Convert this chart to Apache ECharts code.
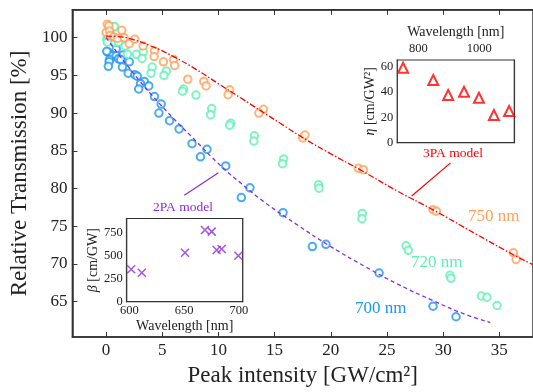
<!DOCTYPE html>
<html><head><meta charset="utf-8">
<script src="https://cdn.jsdelivr.net/npm/echarts@6/dist/echarts.min.js"></script>
<style>html,body{margin:0;padding:0;background:#fff}#c{width:533px;height:392px}</style>
</head><body><div id="c"></div>
<script>
const xTicks = [0,5,10,15,20,25,30,35];
const yTicks = [65,70,75,80,85,90,95,100];
const data700 = [[0.15,98.1],[0.5,97.6],[0.3,97.1],[0.27,96.8],[0.2,96.2],[0.9,98.5],[0.06,98.2],[0.9,97.6],[1.5,97.7],[1.1,97.2],[1.3,97.1],[1.45,96.1],[2.06,96.8],[1.97,95.3],[2.56,95.1],[2.77,94.9],[3.4,94.2],[3.06,93.9],[3.8,93.6],[2.9,93.2],[4.3,92.2],[4.9,91.2],[4.7,90.0],[5.65,89.0],[6.5,87.9],[7.65,85.95],[8.98,85.2],[8.4,84.2],[10.65,83.0],[12.8,80.1],[12.04,78.8],[15.75,76.8],[18.36,72.3],[19.57,72.6],[24.3,68.8],[29.1,64.4],[31.15,63.0]];
const data720 = [[0.65,101.4],[0.74,101.5],[0.06,99.8],[0.2,100.2],[0.4,100.5],[0.1,99.4],[1.3,100.0],[0.8,99.35],[1.1,99.4],[1.7,98.9],[1.9,97.8],[2.7,97.8],[3.3,98.1],[3.2,97.25],[4.1,96.1],[4.0,95.3],[5.36,95.6],[5.15,95.0],[6.9,93.2],[6.8,92.9],[8.0,92.4],[9.4,90.6],[9.3,89.8],[11.1,88.65],[11.0,88.4],[13.2,87.0],[13.15,86.3],[15.8,83.9],[15.7,83.3],[18.9,80.5],[18.95,80.05],[22.8,76.7],[22.77,76.0],[26.7,72.4],[26.9,71.8],[30.6,68.5],[30.7,68.1],[33.4,65.75],[33.9,65.6],[34.8,64.5]];
const data750 = [[0.1,101.8],[0.25,101.6],[0.0,100.7],[0.3,100.9],[0.35,100.3],[0.7,100.1],[1.0,99.9],[1.4,101.0],[1.6,100.0],[2.06,99.2],[2.56,99.8],[3.3,98.9],[4.3,98.25],[4.27,97.5],[5.1,96.8],[6.0,97.1],[6.1,96.3],[7.27,94.5],[8.7,94.2],[8.9,93.6],[11.0,93.1],[10.86,92.45],[14.0,90.5],[13.6,90.0],[17.5,86.7],[17.7,87.1],[22.45,82.7],[22.9,82.5],[29.1,77.2],[29.4,77.0],[36.25,71.5],[36.5,70.6]];
const model2PA = [[0,100],[1,98.0],[2,96.1],[3,94.25],[4,92.5],[6,89.3],[8,86.3],[10,83.3],[12,80.7],[14,78.3],[17,75.2],[20,72.3],[23,69.7],[26,67.3],[29,65.2],[32,63.3],[34.2,62.25]];
const model3PA = [[0,100.2],[1,100.15],[2.3,99.8],[4,98.9],[6,97.5],[8,95.8],[10,93.9],[12,92.0],[15.5,88.65],[17.45,86.8],[20,84.6],[22.6,82.5],[26,79.6],[29.2,77.1],[33,73.9],[36.4,71.1],[38,69.9]];
const betaWl = [601.6,611.3,650.8,669,675.2,679.7,684.3,699.5];
const betaVal = [351,314,530,776,758,560,570,498];
const etaWl = [750,849,898,950,999,1048,1098];
const etaVal = [59.3,49.6,37.7,40.3,35.6,21.9,25.1];
const betaXTicks = [600,650,700];
const betaYTicks = [0,250,500,750];
const etaXTicks = [800,1000];
const etaYTicks = [0,20,40,60];

const F = 'Liberation Serif';
const AX = '#333';
const C700 = '#1e96f0', C720 = '#5ff0b4', C750 = '#ffa05a', CP = '#8a2be2', CR = '#ff0000';
const plain = v => String(v);

function ax(base, w){
  const o = Object.assign({type:'value', splitLine:{show:false}}, base);
  o.axisLine = {show:true, onZero:false, lineStyle:{color:AX, width:w||1.2}};
  return o;
}

const chart = echarts.init(document.getElementById('c'), null, {renderer:'canvas'});
chart.setOption({
  animation:false,
  backgroundColor:'#fff',
  grid:[
    {left:70.3, top:9.8, width:464.6, height:331.6, show:true, borderColor:AX, borderWidth:1.5, backgroundColor:'transparent'},
    {left:126.7, top:218.5, width:116, height:83.2, show:true, borderColor:AX, borderWidth:1.2, backgroundColor:'#fff', z:5},
    {left:397.3, top:60, width:117, height:82.7, show:true, borderColor:AX, borderWidth:1.2, backgroundColor:'#fff', z:5}
  ],
  xAxis:[
    ax({gridIndex:0, min:-3, max:38, position:'bottom',
      axisTick:{inside:true,length:5,customValues:xTicks,lineStyle:{color:AX}},
      axisLabel:{customValues:xTicks,formatter:plain,fontFamily:F,fontSize:17,color:'#222',margin:5},
      name:'Peak intensity [GW/cm²]', nameLocation:'middle', nameGap:24,
      nameTextStyle:{fontFamily:F,fontSize:23,color:'#222'}}, 1.5),
    ax({gridIndex:0, min:-3, max:38, position:'top',
      axisTick:{inside:true,length:5,customValues:xTicks,lineStyle:{color:AX}},
      axisLabel:{show:false}}, 1.5),
    ax({gridIndex:1, min:597.5, max:703.5, position:'bottom',
      axisTick:{inside:true,length:4,customValues:betaXTicks,lineStyle:{color:AX}},
      axisLabel:{customValues:betaXTicks,formatter:plain,fontFamily:F,fontSize:12.5,color:'#222',margin:3},
      name:'Wavelength [nm]', nameLocation:'middle', nameGap:18,
      nameTextStyle:{fontFamily:F,fontSize:14,color:'#222'}}),
    ax({gridIndex:1, min:597.5, max:703.5, position:'top',
      axisTick:{inside:true,length:4,customValues:betaXTicks,lineStyle:{color:AX}},
      axisLabel:{show:false}}),
    ax({gridIndex:2, min:731, max:1115, position:'top',
      axisTick:{inside:true,length:4,customValues:etaXTicks,lineStyle:{color:AX}},
      axisLabel:{customValues:etaXTicks,formatter:plain,fontFamily:F,fontSize:12.5,color:'#222',margin:5},
      name:'Wavelength [nm]', nameLocation:'middle', nameGap:21,
      nameTextStyle:{fontFamily:F,fontSize:14,color:'#222'}}),
    ax({gridIndex:2, min:731, max:1115, position:'bottom',
      axisTick:{inside:true,length:4,customValues:etaXTicks,lineStyle:{color:AX}},
      axisLabel:{show:false}})
  ],
  yAxis:[
    ax({gridIndex:0, min:60.3, max:103.7, position:'left',
      axisTick:{inside:true,length:5,customValues:yTicks,lineStyle:{color:AX}},
      axisLabel:{customValues:yTicks,formatter:plain,fontFamily:F,fontSize:17,color:'#222',margin:5},
      name:'Relative Transmission [%]', nameLocation:'middle', nameGap:32,
      nameTextStyle:{fontFamily:F,fontSize:23,color:'#222'}}, 1.5),
    ax({gridIndex:1, min:0, max:900, position:'left',
      axisTick:{inside:true,length:4,customValues:betaYTicks,lineStyle:{color:AX}},
      axisLabel:{customValues:betaYTicks,formatter:plain,fontFamily:F,fontSize:12.5,color:'#222',margin:4},
      name:'{i|β} [cm/GW]', nameLocation:'middle', nameGap:25,
      nameTextStyle:{fontFamily:F,fontSize:14,color:'#222',rich:{i:{fontFamily:F,fontSize:14,fontStyle:'italic',color:'#222'}}}}),
    ax({gridIndex:1, min:0, max:900, position:'right',
      axisTick:{inside:true,length:4,customValues:betaYTicks,lineStyle:{color:AX}},
      axisLabel:{show:false}}),
    ax({gridIndex:2, min:0, max:65.4, position:'left',
      axisTick:{inside:true,length:4,customValues:etaYTicks,lineStyle:{color:AX}},
      axisLabel:{customValues:etaYTicks,formatter:plain,fontFamily:F,fontSize:12.5,color:'#222',margin:4},
      name:'{i|η} [cm/GW²]', nameLocation:'middle', nameGap:20,
      nameTextStyle:{fontFamily:F,fontSize:14,color:'#222',rich:{i:{fontFamily:F,fontSize:14,fontStyle:'italic',color:'#222'}}}}),
    ax({gridIndex:2, min:0, max:65.4, position:'right',
      axisTick:{inside:true,length:4,customValues:etaYTicks,lineStyle:{color:AX}},
      axisLabel:{show:false}})
  ],
  series:[
    {type:'scatter', xAxisIndex:0, yAxisIndex:0, data:data700, symbol:'emptyCircle', symbolSize:7.5,
      itemStyle:{color:C700,borderColor:C700,borderWidth:1.2}},
    {type:'scatter', xAxisIndex:0, yAxisIndex:0, data:data720, symbol:'emptyCircle', symbolSize:7.5,
      itemStyle:{color:C720,borderColor:C720,borderWidth:1.2}},
    {type:'scatter', xAxisIndex:0, yAxisIndex:0, data:data750, symbol:'emptyCircle', symbolSize:7.5,
      itemStyle:{color:C750,borderColor:C750,borderWidth:1.2}},
    {type:'line', xAxisIndex:0, yAxisIndex:0, data:model2PA, smooth:true, showSymbol:false, symbol:'none',
      lineStyle:{color:CP,width:1.3,type:[4,3]},
      markLine:{silent:true,symbol:'none',label:{show:false},lineStyle:{color:CP,width:1.2,type:'solid'},
        data:[[{coord:[6.96,79.1]},{coord:[10.0,82.1]}]]}},
    {type:'line', xAxisIndex:0, yAxisIndex:0, data:model3PA, smooth:true, showSymbol:false, symbol:'none',
      lineStyle:{color:CR,width:1.3,type:[6,2,1.5,2]},
      markLine:{silent:true,symbol:'none',label:{show:false},lineStyle:{color:CR,width:1.2,type:'solid'},
        data:[[{coord:[30.66,83.4]},{coord:[27.2,79.0]}]]}},
    {type:'scatter', xAxisIndex:2, yAxisIndex:1, z:6, data:betaWl.map((w,i)=>[w,betaVal[i]]),
      symbol:'path://M0,0L10,10M10,0L0,10', symbolSize:8,
      itemStyle:{color:'none',borderColor:CP,borderWidth:1.5}},
    {type:'scatter', xAxisIndex:4, yAxisIndex:3, z:6, data:etaWl.map((w,i)=>[w,etaVal[i]]),
      symbol:'emptyTriangle', symbolSize:10,
      itemStyle:{color:CR,borderColor:CR,borderWidth:1.3}}
  ],
  graphic:[
    {type:'text', left:468, top:208, style:{text:'750 nm', fontFamily:F, fontSize:17, fill:C750}},
    {type:'text', left:411, top:254, style:{text:'720 nm', fontFamily:F, fontSize:17, fill:C720}},
    {type:'text', left:355, top:300, style:{text:'700 nm', fontFamily:F, fontSize:17, fill:C700}},
    {type:'text', left:153, top:200, style:{text:'2PA model', fontFamily:F, fontSize:13.5, fill:CP}},
    {type:'text', left:423, top:146, style:{text:'3PA model', fontFamily:F, fontSize:13.5, fill:CR}}
  ]
});
</script></body></html>
